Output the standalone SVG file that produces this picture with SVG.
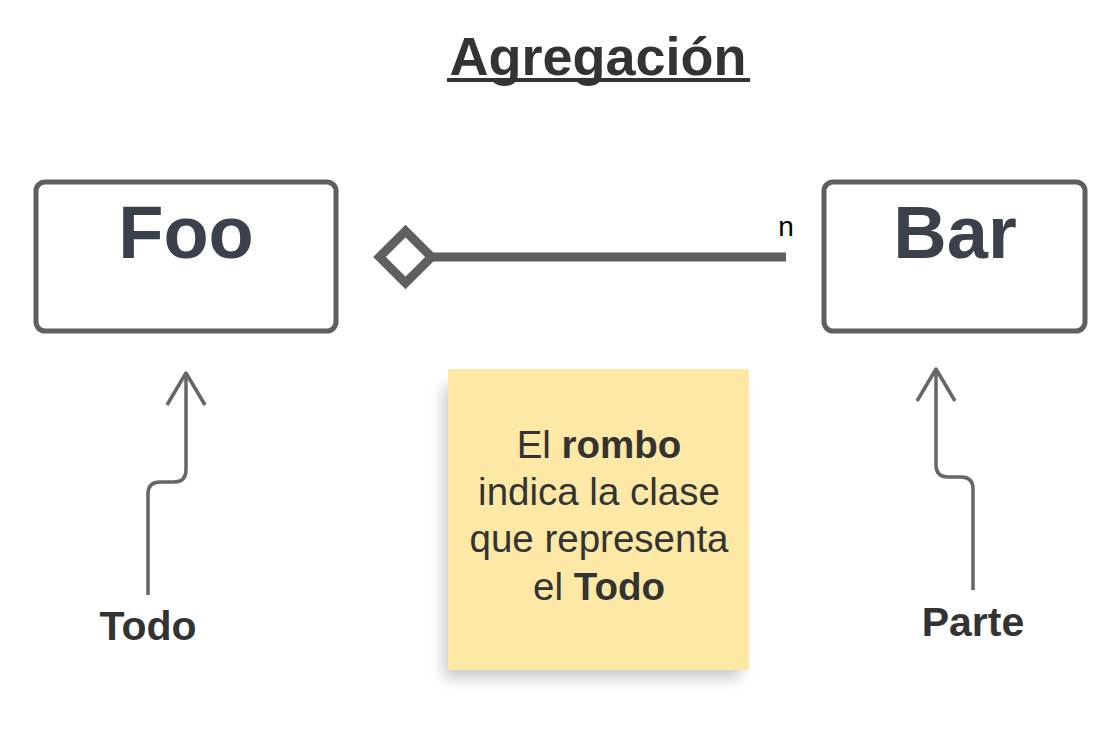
<svg xmlns="http://www.w3.org/2000/svg" width="1118" height="752" viewBox="0 0 1118 752">
<style>
.box{fill:#fff;stroke:#5f5f5f;stroke-width:5}
.cls{font-family:"Liberation Sans",Arial,sans-serif;font-weight:bold;font-size:74px;fill:#3a414b;text-anchor:middle}
.lbl{font-family:"Liberation Sans",Arial,sans-serif;font-weight:bold;font-size:41px;fill:#333;text-anchor:middle}
.note{font-family:"Liberation Sans",Arial,sans-serif;font-size:38.5px;fill:#333;text-anchor:middle}
.ptr{fill:none;stroke:#666;stroke-width:3.5;stroke-linejoin:round}
</style>
<defs>
<filter id="sh" x="-20%" y="-20%" width="140%" height="150%">
<feGaussianBlur stdDeviation="8"/>
</filter>
</defs>
<g id="title">
<text x="598" y="75" class="lbl" style="font-size:54px">Agregación</text>
<rect x="447" y="78" width="303" height="4" fill="#333"/>
</g>
<g id="foo">
<rect class="box" x="36" y="182" width="300" height="149" rx="9"/>
<text class="cls" x="186" y="258">Foo</text>
</g>
<g id="bar">
<rect class="box" x="824" y="182" width="261" height="149" rx="9"/>
<text class="cls" x="955" y="258">Bar</text>
</g>
<g id="connectors">
<line x1="432" y1="257" x2="786" y2="257" stroke="#5f5f5f" stroke-width="9"/>
<path d="M379.5,257 L405.5,231 L431.5,257 L405.5,283 Z" fill="#fff" stroke="#5f5f5f" stroke-width="9"/>
<text x="786" y="236" style="font-family:'Liberation Sans',Arial,sans-serif;font-size:28px;fill:#000" text-anchor="middle">n</text>
<path class="ptr" d="M148,595 L148,494 Q148,482 160,482 L174,482 Q186,482 186,470 L186,373"/>
<path class="ptr" d="M167,405 L186,373 L205,405"/>
<path class="ptr" d="M973,590 L973,489 Q973,477 961,477 L948,477 Q936,477 936,465 L936,369"/>
<path class="ptr" d="M917,401 L936,369 L955,401"/>
</g>
<g id="todo">
<text class="lbl" x="148" y="640">Todo</text>
</g>
<g id="parte">
<text class="lbl" x="973" y="636">Parte</text>
</g>
<g id="note">
<rect x="444" y="386" width="296" height="292" fill="#000" opacity="0.22" filter="url(#sh)"/>
<rect x="448" y="369" width="301" height="301" fill="#fde9a5"/>
<text class="note" x="599" y="458">El <tspan font-weight="bold">rombo</tspan></text>
<text class="note" x="599" y="505">indica la clase</text>
<text class="note" x="599" y="552">que representa</text>
<text class="note" x="599" y="600">el <tspan font-weight="bold">Todo</tspan></text>
</g>
</svg>
